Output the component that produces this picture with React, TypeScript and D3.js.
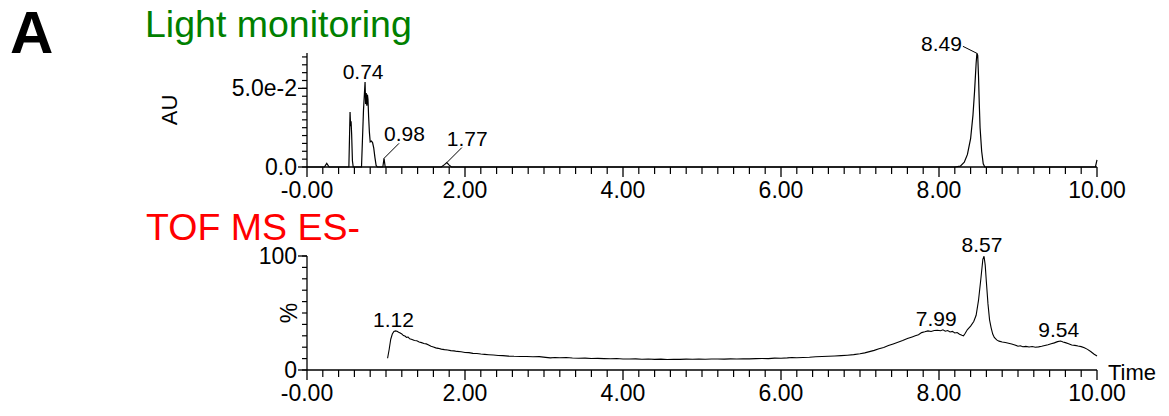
import React from 'react';
import * as d3 from 'd3';

// retention time axis (min)
const timeDomain = [0, 10];
const xMajorTicks = [0, 2, 4, 6, 8, 10];
const xTickLabels = ['-0.00', '2.00', '4.00', '6.00', '8.00', '10.00'];

// light monitoring trace, [time, AU]
const uvTrace: [number, number][] = [
  [0, 0], [0.22, 0], [0.25, 0.0023], [0.28, 0],
  [0.53, 0], [0.545, 0.035], [0.552, 0.026], [0.558, 0.029], [0.565, 0.021], [0.575, 0.004], [0.585, 0],
  [0.69, 0], [0.715, 0.036], [0.735, 0.054], [0.742, 0.04], [0.75, 0.047], [0.757, 0.039], [0.765, 0.046],
  [0.772, 0.043], [0.78, 0.032], [0.79, 0.022], [0.8, 0.016], [0.815, 0.0165], [0.83, 0.0155], [0.845, 0.012],
  [0.86, 0.006], [0.875, 0.001], [0.89, 0],
  [0.96, 0], [0.975, 0.0055], [0.99, 0],
  [1.7, 0], [1.74, 0.0015], [1.77, 0.0028], [1.8, 0.0012], [1.83, 0],
  [8.2, 0], [8.27, 0.0005], [8.32, 0.003], [8.36, 0.008], [8.4, 0.018], [8.43, 0.033], [8.45, 0.048],
  [8.47, 0.066], [8.48, 0.0723], [8.49, 0.071], [8.5, 0.058], [8.51, 0.04], [8.52, 0.025], [8.54, 0.01],
  [8.56, 0.002], [8.58, 0], [9.98, 0], [10.0, 0.0045],
];
const uvYMax = 0.0725;
const uvYLabels = [{ v: 0, text: '0.0' }, { v: 0.05, text: '5.0e-2' }];
// peak labels: time, height, label
const uvPeaks = [{ t: 0.735, v: 0.054, text: '0.74' }];
const uvLeaderPeaksRight = [
  { t: 0.975, v: 0.0055, text: '0.98' },
  { t: 1.77, v: 0.0028, text: '1.77' },
];
const uvLeaderPeaksLeft = [{ t: 8.48, v: 0.0723, text: '8.49' }];

// TOF MS ES- TIC trace, [time, %]
const ticTrace: [number, number][] = [
  [1.02, 10.3], [1.04, 18], [1.06, 27], [1.08, 31.5], [1.1, 33.8], [1.12, 34.3], [1.14, 34.0], [1.16, 33.2],
  [1.18, 32.5], [1.2, 31.6], [1.22, 30.2], [1.24, 29.8], [1.26, 28.6], [1.28, 28.9], [1.3, 27.4], [1.33, 26.8],
  [1.36, 25.9], [1.39, 25.6], [1.42, 24.5], [1.45, 24.0], [1.48, 23.3], [1.51, 22.9], [1.54, 22.0], [1.57, 20.8],
  [1.6, 20.1], [1.63, 19.4], [1.66, 19.0], [1.7, 18.3], [1.74, 17.9], [1.78, 17.6], [1.82, 17.0], [1.86, 16.8],
  [1.9, 16.3], [1.95, 16.0], [2.0, 15.4], [2.05, 15.2], [2.1, 14.6], [2.15, 14.5], [2.2, 14.0], [2.25, 13.7],
  [2.3, 13.4], [2.36, 13.1], [2.42, 12.7], [2.48, 12.6], [2.55, 12.2], [2.62, 12.0], [2.7, 11.9], [2.78, 11.8],
  [2.86, 11.6], [2.94, 11.7], [3.02, 11.1], [3.08, 10.6], [3.14, 10.9], [3.2, 10.8], [3.28, 10.9], [3.36, 10.5],
  [3.44, 10.3], [3.52, 10.4], [3.6, 10.1], [3.68, 10.2], [3.76, 10.0], [3.84, 9.9], [3.92, 10.1], [4.0, 9.7],
  [4.08, 9.6], [4.16, 9.8], [4.24, 9.4], [4.32, 9.6], [4.4, 9.3], [4.48, 9.5], [4.56, 9.2], [4.64, 9.4],
  [4.72, 9.3], [4.8, 9.5], [4.88, 9.4], [4.96, 9.6], [5.04, 9.4], [5.12, 9.7], [5.2, 9.6], [5.28, 9.5],
  [5.36, 9.8], [5.44, 9.7], [5.52, 9.9], [5.6, 9.8], [5.68, 10.0], [5.76, 10.1], [5.84, 10.0], [5.92, 10.4],
  [6.0, 10.3], [6.08, 10.6], [6.14, 11.0], [6.2, 10.7], [6.28, 11.0], [6.36, 11.2], [6.44, 11.6], [6.52, 11.8],
  [6.6, 12.0], [6.68, 12.3], [6.76, 12.6], [6.84, 13.0], [6.92, 13.5], [7.0, 14.2], [7.06, 15.0], [7.12, 16.1],
  [7.18, 17.2], [7.24, 18.6], [7.3, 19.8], [7.36, 21.4], [7.42, 22.9], [7.48, 24.3], [7.54, 25.8], [7.6, 27.6],
  [7.66, 29.0], [7.7, 30.0], [7.74, 31.0], [7.78, 32.8], [7.82, 33.5], [7.86, 34.3], [7.9, 33.8], [7.94, 34.6],
  [7.98, 34.9], [8.02, 34.4], [8.05, 35.3], [8.08, 34.0], [8.11, 34.6], [8.14, 33.4], [8.17, 33.9], [8.2, 32.5],
  [8.23, 32.9], [8.26, 31.4], [8.29, 30.5], [8.31, 30.0], [8.33, 32.0], [8.36, 35.5], [8.4, 38.5], [8.44, 42.5],
  [8.47, 48.0], [8.5, 61.0], [8.53, 80.0], [8.555, 97.0], [8.57, 99.8], [8.585, 92.0], [8.6, 77.0], [8.62, 58.0],
  [8.64, 44.0], [8.66, 37.0], [8.68, 31.5], [8.7, 28.5], [8.73, 26.4], [8.76, 25.3], [8.8, 24.6], [8.84, 24.1],
  [8.88, 23.5], [8.92, 22.8], [8.96, 21.9], [9.0, 20.9], [9.03, 21.3], [9.06, 20.4], [9.1, 20.7], [9.14, 20.2],
  [9.18, 20.6], [9.22, 19.9], [9.26, 20.3], [9.3, 20.8], [9.34, 21.5], [9.38, 22.2], [9.42, 23.0], [9.46, 23.8],
  [9.5, 24.9], [9.54, 25.4], [9.57, 24.6], [9.6, 24.0], [9.64, 23.1], [9.68, 22.0], [9.72, 21.6], [9.76, 21.0],
  [9.8, 20.5], [9.84, 19.6], [9.88, 18.1], [9.92, 16.2], [9.96, 14.1], [10.0, 12.3],
];
const ticYLabels = [{ v: 0, text: '0' }, { v: 100, text: '100' }];
const ticPeaks = [
  { t: 1.12, v: 34.3, text: '1.12' },
  { t: 7.99, v: 34.9, text: '7.99' },
  { t: 8.57, v: 99.8, text: '8.57' },
  { t: 9.54, v: 25.4, text: '9.54' },
];

const FONT = '"Liberation Sans", Arial, Helvetica, sans-serif';

const x = d3.scaleLinear().domain(timeDomain).range([307, 1097]);
const minorX = d3.range(0, 50).map(i => i * 0.2).filter(t => !xMajorTicks.some(m => Math.abs(m - t) < 1e-6));

const XAxis = ({ y0 }: { y0: number }) => (
  <g>
    <line x1={x(0)} x2={x(10)} y1={y0} y2={y0} stroke="#000" strokeWidth={1.3} />
    {minorX.map(t => (
      <line key={t} x1={x(t)} x2={x(t)} y1={y0} y2={y0 + 7} stroke="#000" strokeWidth={1.2} />
    ))}
    {xMajorTicks.map((t, i) => (
      <g key={t}>
        <line x1={x(t)} x2={x(t)} y1={y0} y2={y0 + 10} stroke="#000" strokeWidth={1.3} />
        <text x={x(t)} y={y0 + 31} textAnchor="middle" fontSize={23} fontFamily={FONT}>{xTickLabels[i]}</text>
      </g>
    ))}
  </g>
);

const YAxis = ({ y, step, max, labels }: { y: d3.ScaleLinear<number, number>; step: number; max: number; labels: { v: number; text: string }[] }) => {
  const ticks = d3.range(0, Math.floor(max / step + 1e-6) + 1).map(i => i * step);
  const x0 = x(0);
  return (
    <g>
      <line x1={x0} x2={x0} y1={y(0)} y2={y(max)} stroke="#000" strokeWidth={1.3} />
      {ticks.map(v => (
        <line key={v} x1={x0 - 5} x2={x0} y1={y(v)} y2={y(v)} stroke="#000" strokeWidth={1.2} />
      ))}
      {labels.map(l => (
        <g key={l.text}>
          <line x1={x0 - 9} x2={x0} y1={y(l.v)} y2={y(l.v)} stroke="#000" strokeWidth={1.3} />
          <text x={x0 - 10} y={y(l.v) + 8} textAnchor="end" fontSize={23} fontFamily={FONT}>{l.text}</text>
        </g>
      ))}
    </g>
  );
};

export default function App() {
  const yUV = d3.scaleLinear().domain([0, uvYMax]).range([167, 53]);
  const yTIC = d3.scaleLinear().domain([0, 100]).range([370, 256]);

  const uvLine = d3.line<[number, number]>().x(d => x(d[0])).y(d => yUV(d[1]));
  const ticLine = d3.line<[number, number]>().x(d => x(d[0])).y(d => yTIC(d[1]));

  return (
    <svg width={1169} height={416} style={{ position: 'absolute', left: 0, top: 0, background: '#fff' }}>
      <text x={10} y={53} fontSize={60} fontWeight="bold" fontFamily={FONT}>A</text>
      <text x={145} y={37} fontSize={37.5} fill="#008000" fontFamily={FONT}>Light monitoring</text>
      <text x={146} y={240} fontSize={37.5} fill="#ff0000" fontFamily={FONT}>TOF MS ES-</text>

      {/* top panel */}
      <YAxis y={yUV} step={0.005} max={uvYMax} labels={uvYLabels} />
      <XAxis y0={yUV(0)} />
      <text transform={`translate(177,110) rotate(-90)`} textAnchor="middle" fontSize={22} fontFamily={FONT}>AU</text>
      <path d={uvLine(uvTrace) ?? ''} fill="none" stroke="#000" strokeWidth={1.2} />
      {uvPeaks.map(p => (
        <text key={p.text} x={x(p.t) - 2} y={yUV(p.v) - 3} textAnchor="middle" fontSize={21} fontFamily={FONT}>{p.text}</text>
      ))}
      {uvLeaderPeaksRight.map(p => (
        <g key={p.text}>
          <line x1={x(p.t)} y1={yUV(p.v)} x2={x(p.t) + 15} y2={yUV(p.v) - 15} stroke="#000" strokeWidth={1} />
          <text x={x(p.t)} y={yUV(p.v) - 17} fontSize={21} fontFamily={FONT}>{p.text}</text>
        </g>
      ))}
      {uvLeaderPeaksLeft.map(p => (
        <g key={p.text}>
          <line x1={x(p.t)} y1={yUV(p.v)} x2={x(p.t) - 14} y2={yUV(p.v) - 7} stroke="#000" strokeWidth={1} />
          <text x={x(p.t) - 15} y={yUV(p.v) - 2} textAnchor="end" fontSize={21} fontFamily={FONT}>{p.text}</text>
        </g>
      ))}

      {/* bottom panel */}
      <YAxis y={yTIC} step={10} max={100} labels={ticYLabels} />
      <XAxis y0={yTIC(0)} />
      <text transform={`translate(297,313) rotate(-90)`} textAnchor="middle" fontSize={23} fontFamily={FONT}>%</text>
      <text x={1108} y={380} fontSize={22} fontFamily={FONT}>Time</text>
      <path d={ticLine(ticTrace) ?? ''} fill="none" stroke="#000" strokeWidth={1.1} />
      {ticPeaks.map(p => (
        <text key={p.text} x={x(p.t) - 2} y={yTIC(p.v) - 4} textAnchor="middle" fontSize={21} fontFamily={FONT}>{p.text}</text>
      ))}
    </svg>
  );
}
